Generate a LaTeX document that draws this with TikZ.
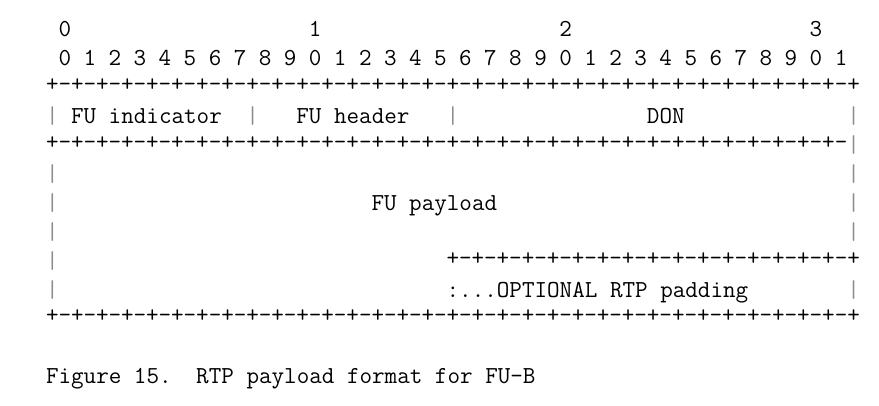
\documentclass[tikz,border=0pt]{standalone}
\usepackage{fontspec}
\newfontfamily\mono{Latin Modern Mono}
\newcommand\cx[1]{(46+12.52*(#1))}
\newcommand\ry[1]{(37+28.9*(#1))}
\begin{document}
\begin{tikzpicture}[x=1pt,y=-1pt,
  t/.style={anchor=base west,inner sep=0pt,outer sep=0pt,
            font=\mono\fontsize{24.4pt}{28pt}\selectfont,text=black},
  bar/.style={t,text=black!45}]
\useasboundingbox[fill=white] (0,0) rectangle (879,406);
% bit numbering
\foreach \c/\d in {1/0,21/1,41/2,61/3}
  \node[t] (dec\d) at ({\cx{\c}},{\ry{0}}) {\d};
\foreach \i in {0,...,31}{
  \pgfmathtruncatemacro\d{mod(\i,10)}
  \node[t] (bit\i) at ({\cx{2*\i+1}},{\ry{1}}) {\d};
}
% +-+- rows
\foreach \r/\a/\b in {2/0/64,4/0/63,8/32/64,10/0/64}{
  \foreach \c in {\a,...,\b}{
    \pgfmathtruncatemacro\m{mod(\c,2)}
    \node[t] (r\r c\c) at ({\cx{\c}},{\ry{\r}-3}) {\ifnum\m=0 +\else -\fi};
  }
}
\node[bar] (r4c64) at ({\cx{64}},{\ry{4}}) {|};
% vertical bars
\foreach \r/\c in {3/0,3/16,3/32,3/64,5/0,5/64,6/0,6/64,7/0,7/64,8/0,9/0,9/64}
  \node[bar] (v\r-\c) at ({\cx{\c}},{\ry{\r}}) {|};
% field labels
\node[t] (fuind) at ({\cx{2}},{\ry{3}}) {FU indicator};
\node[t] (fuhdr) at ({\cx{20}},{\ry{3}}) {FU header};
\node[t] (don)   at ({\cx{48}},{\ry{3}}) {DON};
\node[t] (fupay) at ({\cx{26}},{\ry{6}}) {FU payload};
\node[t] (pad)   at ({\cx{32}},{\ry{9}}) {:...OPTIONAL RTP padding};
% caption
\node[t] (cap1) at ({\cx{0}},{\ry{12}}) {Figure 15.};
\node[t] (cap2) at ({\cx{12}},{\ry{12}}) {RTP payload format for FU-B};
\end{tikzpicture}
\end{document}
